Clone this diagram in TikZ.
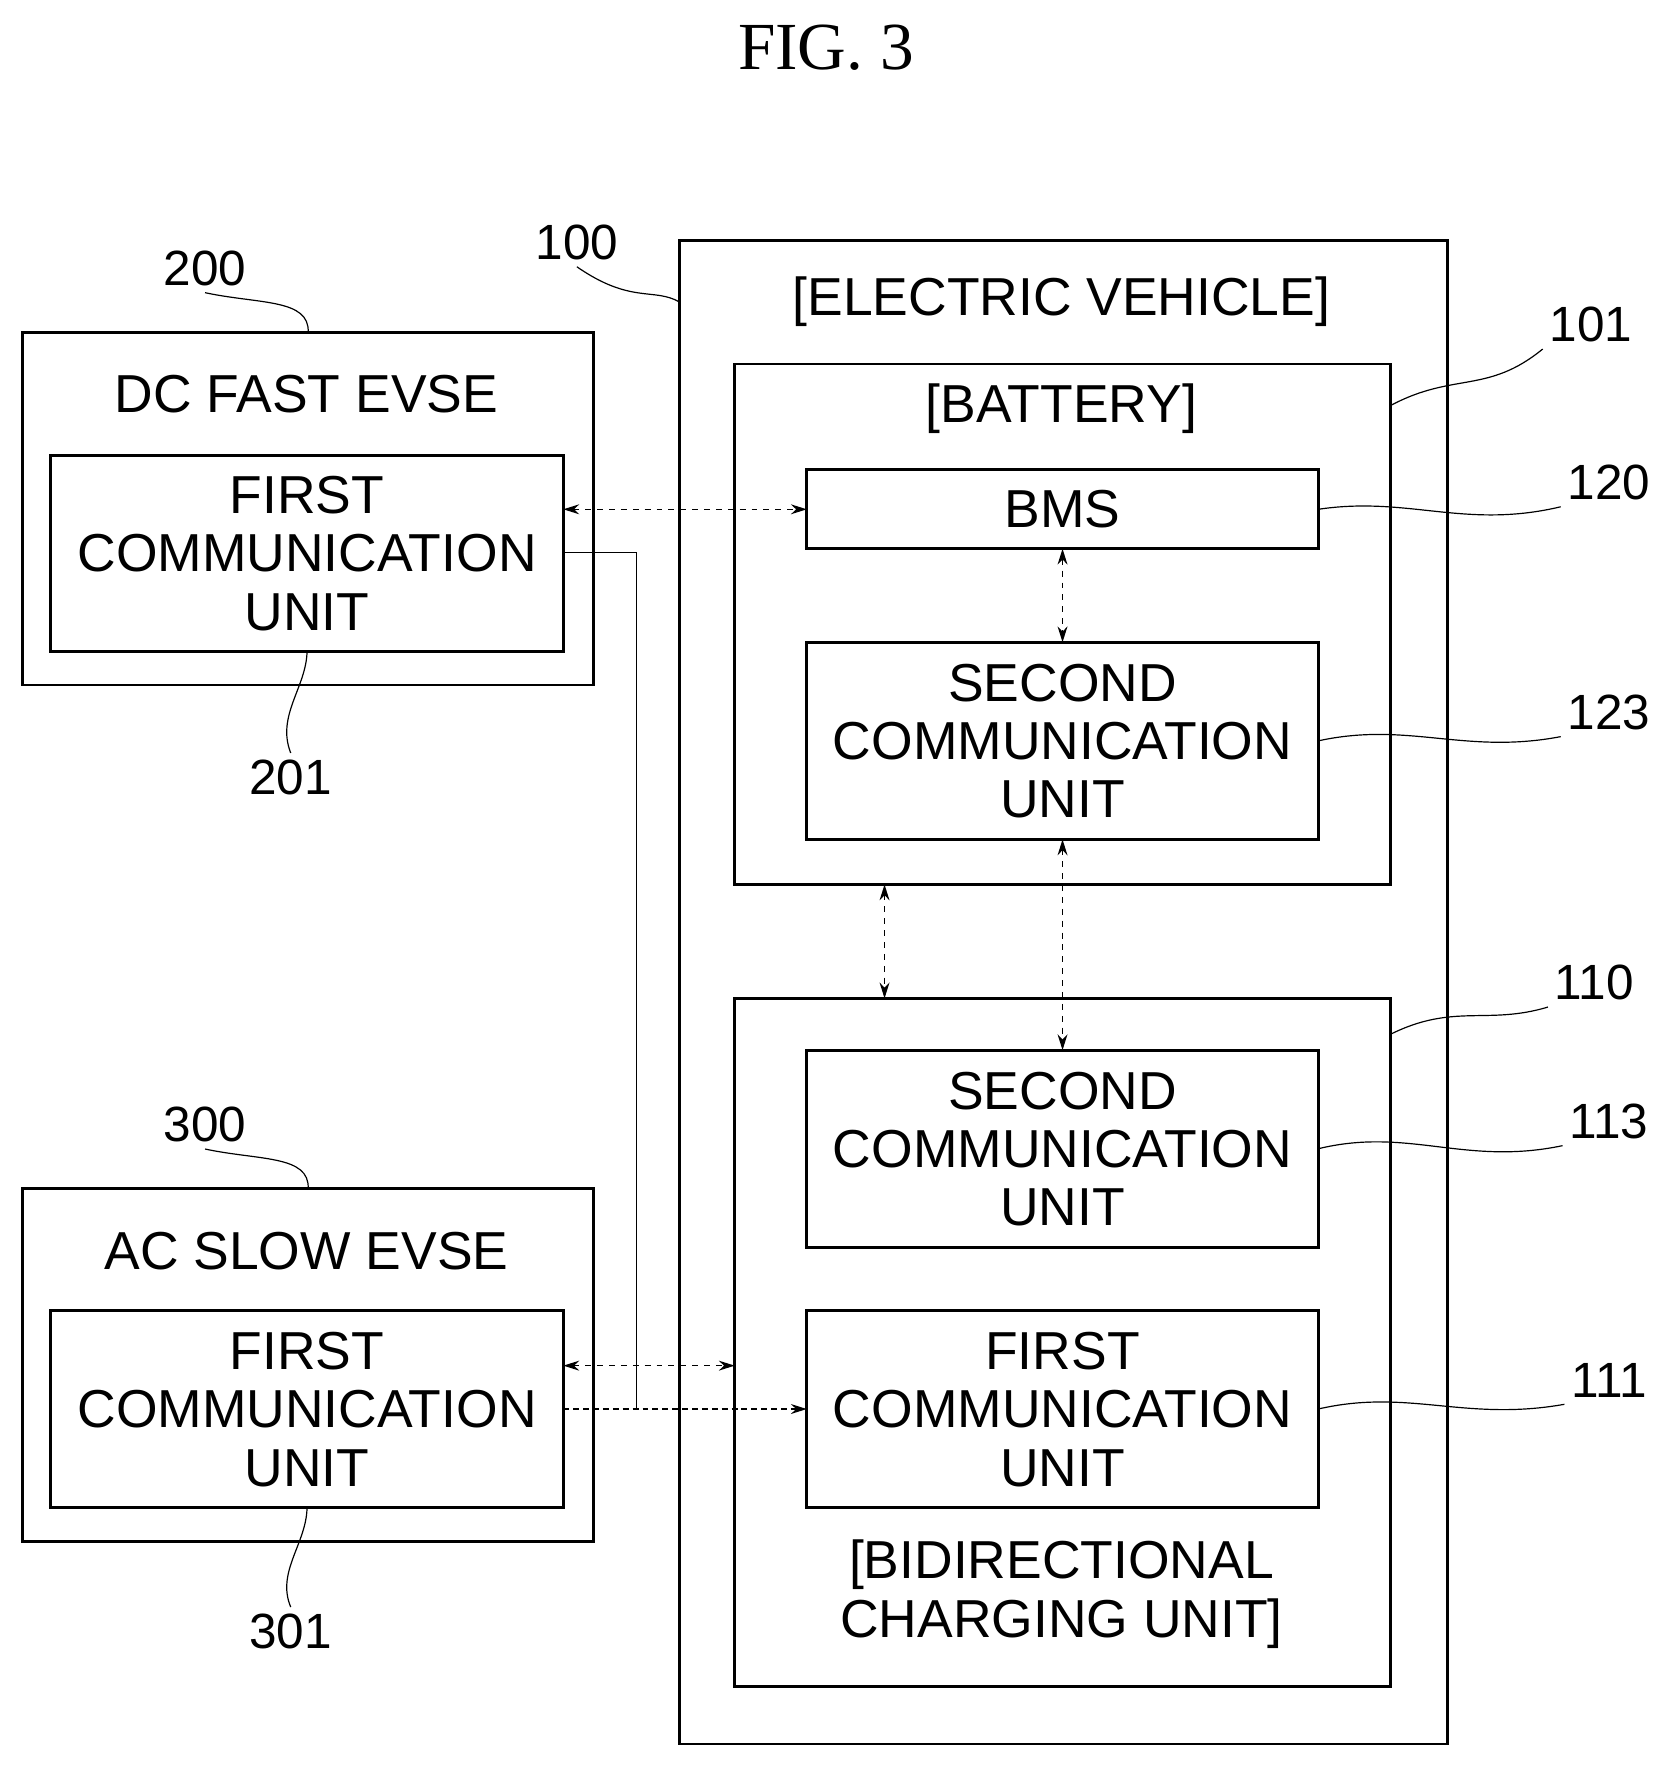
\documentclass[tikz,border=0pt]{standalone}
\usepackage{fontspec}
\setmainfont{Liberation Sans}
\newfontfamily\figfont{Liberation Serif}
\usetikzlibrary{arrows.meta}
\begin{document}
\begin{tikzpicture}[x=0.02cm,y=-0.02cm]

% definitions
\tikzstyle{outer} = [rectangle, draw=black, line width=1.4pt, inner sep=0pt, outer sep=0pt]
\tikzstyle{unit} = [rectangle, draw=black, line width=1.4pt, inner sep=0pt, outer sep=0pt, align=center, font=\fontsize{27}{29.5}\selectfont, text depth=0pt]
\tikzstyle{title} = [font=\fontsize{27}{29.5}\selectfont, align=center]
\tikzstyle{ref} = [font=\fontsize{25}{25}\selectfont]
\tikzstyle{lead} = [line width=0.6pt]
\tikzstyle{arrow} = [{Stealth[length=8pt,width=5pt]}-{Stealth[length=8pt,width=5pt]}, dashed, line width=0.7pt]
\tikzstyle{oneway} = [-{Stealth[length=8pt,width=5pt]}, densely dashed, line width=0.7pt]

\useasboundingbox (0,0) rectangle (1490,1570);

\node (fig) [font=\figfont\fontsize{34}{34}\selectfont] at (733,42) {FIG. 3};

% the graph
\node (ev) [outer, minimum width=13.64cm, minimum height=26.7cm] at (944,880.5) {};
\node (evt) [title] at (942,268) {[ELECTRIC VEHICLE]};

\node (bat) [outer, minimum width=11.64cm, minimum height=9.24cm] at (943,554) {};
\node (batt) [title] at (942,363) {[BATTERY]};
\node (bms) [unit, minimum width=9.08cm, minimum height=1.4cm] at (943,452) {BMS};
\node (sc1) [unit, minimum width=9.08cm, minimum height=3.5cm] at (943,657.5) {SECOND\\COMMUNICATION\\UNIT};

\node (chg) [outer, minimum width=11.64cm, minimum height=12.22cm] at (943,1191.5) {};
\node (sc2) [unit, minimum width=9.08cm, minimum height=3.5cm] at (943,1019.5) {SECOND\\COMMUNICATION\\UNIT};
\node (fc) [unit, minimum width=9.08cm, minimum height=3.5cm] at (943,1250.5) {FIRST\\COMMUNICATION\\UNIT};
\node (chgt) [title] at (942,1415) {[BIDIRECTIONAL\\CHARGING UNIT]};

\node (dc) [outer, minimum width=10.14cm, minimum height=6.26cm] at (273.5,451.5) {};
\node (dct) [title] at (272,350) {DC FAST EVSE};
\node (dcu) [unit, minimum width=9.1cm, minimum height=3.48cm] at (272.5,491) {FIRST\\COMMUNICATION\\UNIT};

\node (ac) [outer, minimum width=10.14cm, minimum height=6.26cm] at (273.5,1211.5) {};
\node (act) [title] at (272,1110) {AC SLOW EVSE};
\node (acu) [unit, minimum width=9.1cm, minimum height=3.5cm] at (272.5,1250.5) {FIRST\\COMMUNICATION\\UNIT};

% reference numerals
\node (r100) [ref] at (512,215) {100};
\node (r101) [ref] at (1412,288) {101};
\node (r120) [ref] at (1428,428) {120};
\node (r123) [ref] at (1428,632) {123};
\node (r110) [ref] at (1415,872) {110};
\node (r113) [ref] at (1428,995) {113};
\node (r111) [ref] at (1428,1225) {111};
\node (r200) [ref] at (182,238) {200};
\node (r201) [ref] at (258,690) {201};
\node (r300) [ref] at (182,998) {300};
\node (r301) [ref] at (258,1448) {301};

\draw [lead] (r100.south) .. controls (560,270) and (580,255) .. (ev.north west |- 0,268);
\draw [lead] (bat.north east |- 0,360) .. controls (1290,330) and (1320,350) .. (r101.south west);
\draw [lead] (bms.east) .. controls (1250,440) and (1300,470) .. (r120.south west);
\draw [lead] (sc1.east) .. controls (1250,640) and (1300,670) .. (r123.south west);
\draw [lead] (chg.north east |- 0,918) .. controls (1290,890) and (1320,910) .. (r110.south west);
\draw [lead] (sc2.east) .. controls (1250,1000) and (1300,1035) .. (r113.south west);
\draw [lead] (fc.east) .. controls (1250,1232) and (1300,1262) .. (r111.south west);
\draw [lead] (r200.south) .. controls (230,270) and (275,265) .. (dc.north);
\draw [lead] (dcu.south) .. controls (272,610) and (245,635) .. (r201.north);
\draw [lead] (r300.south) .. controls (230,1030) and (275,1025) .. (ac.north);
\draw [lead] (acu.south) .. controls (272,1370) and (245,1395) .. (r301.north);

% connections
\coordinate (j) at (565,1250.5);
\draw [arrow] (bms.west -| dcu.east) -- (bms.west);
\draw [arrow] (bms.south) -- (sc1.north);
\draw [arrow] ([xshift=-3.16cm]bat.south) -- ([xshift=-3.16cm]chg.north);
\draw [arrow] (sc1.south) -- (sc2.north);
\draw [line width=0.6pt] ([yshift=0.02cm]dcu.east) -| (j);
\draw [oneway] (acu.east) -- (fc.west);
\draw [arrow] ([yshift=0.77cm]acu.east) -- ([yshift=0.77cm]acu.east -| chg.west);

\end{tikzpicture}
\end{document}
